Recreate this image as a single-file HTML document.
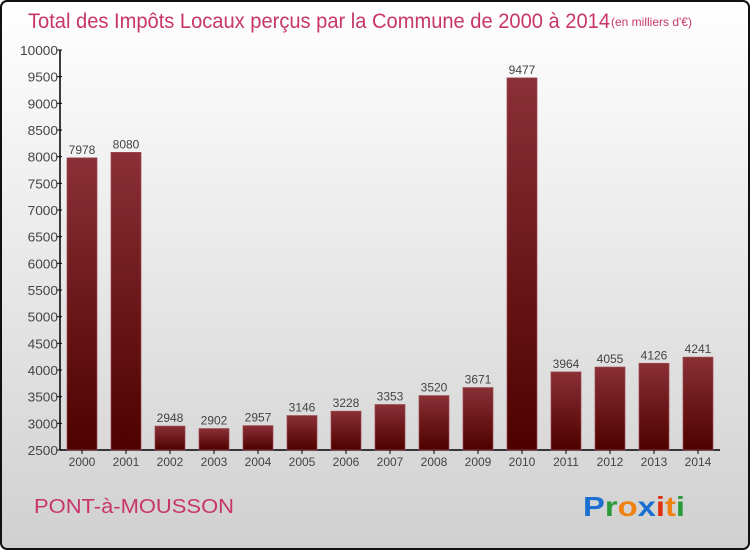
<!DOCTYPE html>
<html><head><meta charset="utf-8"><style>
body{margin:0;width:750px;height:550px;overflow:hidden}
svg{display:block}
text{font-family:"Liberation Sans",sans-serif}
</style></head><body>
<svg width="750" height="550" viewBox="0 0 750 550">
<defs>
<linearGradient id="bg" x1="0" y1="0" x2="0" y2="1"><stop offset="0" stop-color="#ffffff"/><stop offset="1" stop-color="#d0d0d0"/></linearGradient>
<linearGradient id="bar" x1="0" y1="0" x2="0" y2="1"><stop offset="0" stop-color="#8a3036"/><stop offset="1" stop-color="#4e0000"/></linearGradient>
</defs>
<rect x="1" y="1" width="748" height="548" rx="6" fill="url(#bg)" stroke="#111" stroke-width="2"/>
<text x="28" y="28" font-size="21" fill="#c8356a" textLength="582" lengthAdjust="spacingAndGlyphs">Total des Impôts Locaux perçus par la Commune de 2000 à 2014</text>
<text x="611" y="26" font-size="12" fill="#c8356a">(en milliers d'€)</text>
<g id="plot"></g>
<text x="34" y="513" font-size="20" fill="#c8356a" textLength="200" lengthAdjust="spacingAndGlyphs">PONT-à-MOUSSON</text>
<text x="583" y="516" font-size="28" font-weight="bold" textLength="102" lengthAdjust="spacingAndGlyphs"><tspan fill="#1a6fd0">P</tspan><tspan fill="#2a9a3a">r</tspan><tspan fill="#f08010">o</tspan><tspan fill="#1a6fd0">x</tspan><tspan fill="#e03010">i</tspan><tspan fill="#f08010">t</tspan><tspan fill="#2a9a3a">i</tspan></text>
</svg>
<script>
const categories=["2000","2001","2002","2003","2004","2005","2006","2007","2008","2009","2010","2011","2012","2013","2014"];
const values=[7978,8080,2948,2902,2957,3146,3228,3353,3520,3671,9477,3964,4055,4126,4241];
const ticks=[2500,3000,3500,4000,4500,5000,5500,6000,6500,7000,7500,8000,8500,9000,9500,10000];
const NS="http://www.w3.org/2000/svg";
const g=document.getElementById('plot');
const yMin=2500,yMax=10000,yTop=50,yBot=450,ax=60;
const y=v=>yBot-(v-yMin)/(yMax-yMin)*(yBot-yTop);
const xc=i=>82+i*44;
function mk(t,a){const e=document.createElementNS(NS,t);for(const k in a)e.setAttribute(k,a[k]);g.appendChild(e);return e;}
let e=mk('line',{x1:ax,y1:yTop,x2:ax,y2:yBot,stroke:'#000','stroke-width':1.5});


e=mk('line',{x1:ax,y1:yBot,x2:720,y2:yBot,stroke:'#000','stroke-width':1.5});


ticks.forEach(t=>{
 const tk=mk('line',{x1:ax-3,y1:y(t),x2:ax+2,y2:y(t),stroke:'#000'});
 
 
 const l=mk('text',{x:ax-2,y:y(t)+5,'font-size':13,fill:'#444','text-anchor':'end',textLength:String(t).length*7.6,lengthAdjust:'spacingAndGlyphs'});
 l.textContent=t;
 
 
});
values.forEach((v,i)=>{
 const b=mk('rect',{x:xc(i)-15,y:y(v),width:30,height:yBot-y(v),fill:'url(#bar)',stroke:'#9a4a50','stroke-width':0.7});
 
 
 const vl=mk('text',{x:xc(i),y:y(v)-4,'font-size':12,fill:'#444','text-anchor':'middle'});
 vl.textContent=v;
 
 
 const tk=mk('line',{x1:xc(i),y1:yBot,x2:xc(i),y2:yBot+4,stroke:'#000'});
 
 
 const xl=mk('text',{x:xc(i),y:466,'font-size':12,fill:'#444','text-anchor':'middle'});
 xl.textContent=categories[i];
 
 
});
</script>
</body></html>
